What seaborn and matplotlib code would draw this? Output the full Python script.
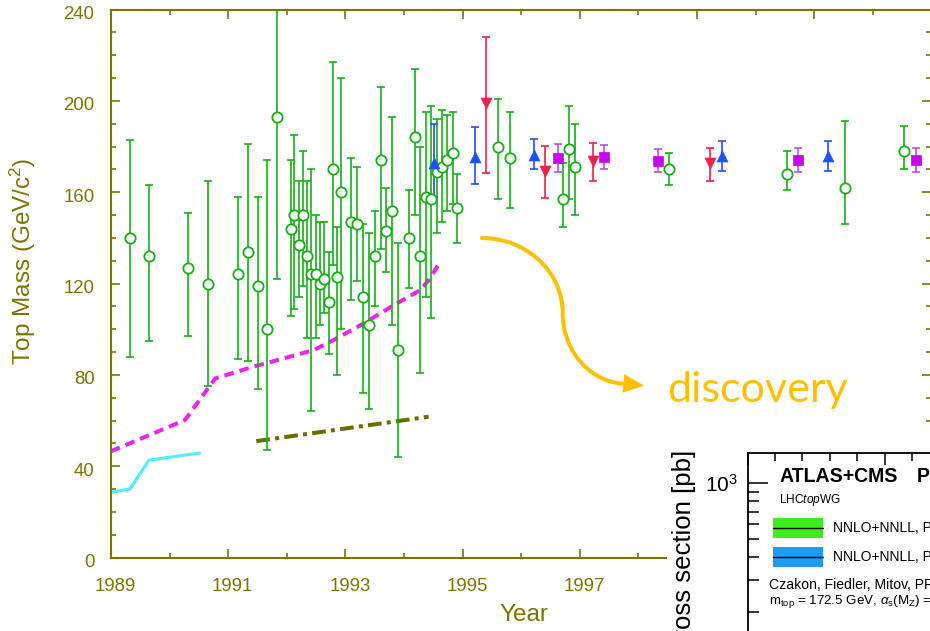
import matplotlib
matplotlib.use("Agg")
import numpy as np
import pandas as pd
import matplotlib.pyplot as plt
import matplotlib.transforms as mtransforms
from matplotlib.path import Path
from matplotlib.patches import FancyArrowPatch, Rectangle, ArrowStyle
from matplotlib.ticker import MultipleLocator, FixedLocator, FixedFormatter, NullFormatter
import seaborn as sns

# ---------------- data ----------------
# green open circles: indirect determinations / predictions
green_year = [1989.32, 1989.65, 1990.32, 1990.66, 1991.17, 1991.33, 1991.50, 1991.66, 1991.83,
              1992.07, 1992.13, 1992.21, 1992.28, 1992.35, 1992.42, 1992.50, 1992.57, 1992.64,
              1992.72, 1992.78, 1992.85, 1992.93, 1993.10, 1993.20, 1993.30, 1993.40, 1993.50,
              1993.61, 1993.70, 1993.80, 1993.90, 1994.09, 1994.18, 1994.27, 1994.37, 1994.46,
              1994.56, 1994.65, 1994.74, 1994.83, 1994.91,
              1995.61, 1995.81, 1996.71, 1996.82, 1996.92, 1998.52, 2000.53, 2001.53, 2002.53]
green_mass = [140, 132, 127, 120, 124, 134, 119, 100, 193,
              144, 150, 137, 150, 132, 124, 124, 120, 122,
              112, 170, 123, 160, 147, 146, 114, 102, 132,
              174, 143, 152, 91, 140, 184, 132, 158, 157,
              169, 171, 174, 177, 153,
              180, 175, 157, 179, 171, 170, 168, 162, 178]
green_lo = [88, 95, 97, 75, 87, 86, 74, 47, 122,
            106, 109, 114, 119, 96, 64, 96, 102, 107,
            89, 128, 80, 100, 113, 121, 72, 65, 110,
            135, 125, 102, 44, 118, 150, 81, 114, 105,
            142, 147, 152, 155, 138,
            157, 153, 145, 157, 150, 163, 161, 146, 170]
green_hi = [183, 163, 151, 165, 158, 181, 158, 174, 250,
            174, 185, 165, 178, 165, 170, 150, 147, 147,
            134, 217, 145, 210, 175, 171, 146, 142, 152,
            206, 162, 193, 138, 161, 214, 180, 195, 198,
            192, 196, 194, 195, 168,
            201, 195, 173, 198, 190, 177, 178, 191, 189]

# blue up-triangles
blue_year = [1994.51, 1995.21, 1996.21, 1999.42, 2001.23]
blue_mass = [173, 175.5, 176.5, 176, 176]
blue_lo = [158, 163.5, 170, 169.4, 169.4]
blue_hi = [190, 188.7, 183.4, 182.5, 182.5]

# red down-triangles
red_year = [1995.40, 1996.41, 1997.22, 1999.22]
red_mass = [199, 169.4, 173.6, 172.6]
red_lo = [168.5, 157.4, 165, 165]
red_hi = [228, 180.3, 181.7, 179.3]

# magenta squares
mag_year = [1996.62, 1997.42, 1998.33, 2000.73, 2002.73]
mag_mass = [175, 175.5, 173.8, 174, 174]
mag_lo = [169, 170.3, 169, 169, 169]
mag_hi = [181, 180.6, 179, 179.5, 179.5]

# lower limits (lines)
cyan_year = [1989.0, 1989.32, 1989.65, 1990.51]
cyan_mass = [28.6, 30.0, 42.7, 45.8]
pink_year = [1989.0, 1990.26, 1990.78, 1991.43, 1992.46, 1992.80, 1993.26, 1993.83, 1994.28, 1994.42, 1994.62]
pink_mass = [46.6, 60.2, 78.5, 83.6, 90.9, 95.3, 101.8, 110.6, 117.2, 121.5, 129.6]
olive_year = [1991.48, 1994.42]
olive_mass = [51.0, 61.7]

x_ticks = [1989, 1991, 1993, 1995, 1997, 1999, 2001, 2003]
y_ticks = [0, 40, 80, 120, 160, 200, 240]

# ---------------- style ----------------
W, H, DPI = 930, 631, 100
OLIVE = "#7b7600"
GREEN = "#16b016"
BLUE = "#1f4fff"
RED = "#f0204a"
PURP = "#c800f0"
PURP_BAR = "#b050ff"
PINK = "#ee22ee"
CYAN = "#55eeff"
DOLIVE = "#6c6a00"
ORANGE = "#ffc000"

sns.set_theme(style="white")
plt.rcParams["font.family"] = ["Liberation Sans", "DejaVu Sans"]
plt.rcParams["mathtext.fontset"] = "custom"
plt.rcParams["mathtext.rm"] = "Liberation Sans"
plt.rcParams["mathtext.it"] = "Liberation Sans:italic"
plt.rcParams["mathtext.bf"] = "Liberation Sans:bold"

fig = plt.figure(figsize=(W / DPI, H / DPI), dpi=DPI)
fig.patch.set_facecolor("white")


def px_rect(l, t, r, b):
    return [l / W, 1 - b / H, (r - l) / W, (b - t) / H]


def fx(x):
    return x / W


def fy(y):
    return 1 - y / H


ax = fig.add_axes(px_rect(111, 9.6, 931.4, 557.6))
ax.set_facecolor("white")
ax.set_xlim(1989, 2003)
ax.set_ylim(0, 240)

# lines
sns.lineplot(x=cyan_year, y=cyan_mass, ax=ax, sort=False, estimator=None,
             color=CYAN, lw=2.3, zorder=1)
sns.lineplot(x=pink_year, y=pink_mass, ax=ax, sort=False, estimator=None,
             color=PINK, lw=2.9, linestyle=(0, (2.4, 1.5)), zorder=1)
sns.lineplot(x=olive_year, y=olive_mass, ax=ax, sort=False, estimator=None,
             color=DOLIVE, lw=2.9, linestyle=(0, (3.4, 1.3, 1.0, 1.3)), zorder=1)


def draw_group(xs, ys, lo, hi, mcol, bcol, marker, size, face, zbar=2, zm=3):
    ys_a = np.array(ys, float)
    err = [ys_a - np.array(lo, float), np.array(hi, float) - ys_a]
    ax.errorbar(xs, ys, yerr=err, fmt="none", ecolor=bcol, elinewidth=1.2,
                capsize=3.0, capthick=1.2, zorder=zbar)
    df = pd.DataFrame({"year": xs, "mass": ys})
    sns.scatterplot(data=df, x="year", y="mass", ax=ax, marker=marker, s=size,
                    facecolor=face, edgecolor=mcol, linewidth=1.3 if face == "white" else 0.5,
                    zorder=zm, legend=False)


draw_group(green_year, green_mass, green_lo, green_hi, GREEN, GREEN, "o", 55, "white")
draw_group(blue_year, blue_mass, blue_lo, blue_hi, BLUE, BLUE, "^", 62, BLUE)
draw_group(red_year, red_mass, red_lo, red_hi, RED, RED, "v", 62, RED)
draw_group(mag_year, mag_mass, mag_lo, mag_hi, PURP, PURP_BAR, "s", 52, PURP)

# axes styling
for sp in ax.spines.values():
    sp.set_color(OLIVE)
    sp.set_linewidth(1.5)
    sp.set_visible(True)
ax.xaxis.set_major_locator(FixedLocator(x_ticks))
ax.xaxis.set_minor_locator(MultipleLocator(1))
ax.yaxis.set_major_locator(FixedLocator(y_ticks))
ax.yaxis.set_minor_locator(MultipleLocator(10))
ax.tick_params(which="both", direction="in", top=True, bottom=True, left=True, right=True,
               color=OLIVE, width=1.2, labelcolor=OLIVE, labelsize=13.4)
ax.tick_params(which="major", length=6.5)
ax.tick_params(which="minor", length=3.5)
ax.tick_params(axis="x", which="major", pad=15)
ax.tick_params(axis="y", which="major", pad=11.8)
ax.grid(False)

offx = mtransforms.ScaledTranslation(4.5 / DPI, 0, fig.dpi_scale_trans)
for lab in ax.get_xticklabels():
    lab.set_transform(lab.get_transform() + offx)
offy = mtransforms.ScaledTranslation(0, -3 / DPI, fig.dpi_scale_trans)
for lab in ax.get_yticklabels():
    lab.set_transform(lab.get_transform() + offy)

ax.set_ylabel("Top Mass (GeV/c$^2$)", color=OLIVE, fontsize=17.5)
ax.yaxis.set_label_coords(fx(23), fy(261), transform=fig.transFigure)
ax.yaxis.label.set_va("center")
ax.set_xlabel("Year", color=OLIVE, fontsize=17.5)
ax.xaxis.set_label_coords(fx(524), fy(604), transform=fig.transFigure)
ax.xaxis.label.set_va("top")

# discovery arrow (S-shaped curve) in data coordinates
verts = [(1995.331, 139.97), (1996.085, 139.97), (1996.708, 125.26), (1996.708, 107.13),
         (1996.708, 89.96), (1997.200, 76.03), (1997.823, 76.03),
         (1998.096, 75.29)]
codes = [Path.MOVETO, Path.CURVE4, Path.CURVE4, Path.CURVE4,
         Path.CURVE4, Path.CURVE4, Path.CURVE4, Path.LINETO]
arrow = FancyArrowPatch(path=Path(verts, codes),
                        arrowstyle=ArrowStyle("-|>", head_length=1.0, head_width=0.45),
                        mutation_scale=10, color=ORANGE, lw=2.9, transform=ax.transData,
                        zorder=4, clip_on=False, joinstyle="miter")
ax.add_patch(arrow)

renderer = fig.canvas.get_renderer()


def fit_width(t, target_px):
    w = t.get_window_extent(renderer).width
    t.set_fontsize(t.get_fontsize() * target_px / w)


t_disc = fig.text(fx(666.7), fy(401.7), "discovery", color=ORANGE, family=["Lato", "DejaVu Sans"],
                  fontsize=28, ha="left", va="baseline", zorder=4)
fit_width(t_disc, 181)

# ---------------- inset (pasted LHC cross-section plot) ----------------
fig.add_artist(Rectangle((fx(667), 0), 1 - fx(667), fy(435), transform=fig.transFigure,
                         facecolor="white", edgecolor="none", zorder=5))

iax = fig.add_axes(px_rect(747.5, 452.7, 1021.5, 700), zorder=6)
iax.set_facecolor("white")
iax.set_yscale("log")
iax.set_xlim(0, 2)
iax.set_ylim(67, 1465)
for side, sp in iax.spines.items():
    sp.set_color("black")
    sp.set_linewidth(1.3)
    sp.set_visible(True)
iax.xaxis.set_major_locator(MultipleLocator(1))
iax.xaxis.set_minor_locator(MultipleLocator(0.2))
iax.xaxis.set_major_formatter(NullFormatter())
iax.yaxis.set_major_locator(FixedLocator([1000]))
iax.yaxis.set_major_formatter(FixedFormatter(["$10^3$"]))
iax.yaxis.set_minor_locator(FixedLocator([100, 200, 300, 400, 500, 600, 700, 800, 900]))
iax.yaxis.set_minor_formatter(NullFormatter())
iax.tick_params(which="both", direction="in", top=True, bottom=False, left=True, right=False,
                labelbottom=False, color="black", width=1.1)
iax.tick_params(axis="x", which="major", length=8.6)
iax.tick_params(axis="x", which="minor", length=5.5)
iax.tick_params(axis="y", which="major", length=14.4, pad=7, labelsize=15, labelcolor="black")
iax.tick_params(axis="y", which="minor", length=8)
iax.grid(False)

fig.text(fx(684), fy(450), "Cross section [pb]", rotation=90, ha="center", va="top",
         fontsize=18.5, color="black", zorder=7)

t_atl = fig.text(fx(779.3), fy(481.7), "ATLAS+CMS", fontweight="bold", fontsize=14,
                 ha="left", va="baseline", color="black", zorder=7)
fit_width(t_atl, 119)
fig.text(fx(917), fy(481.7), "Preliminary", fontweight="bold", fontsize=t_atl.get_fontsize(),
         ha="left", va="baseline", color="black", zorder=7)
fig.text(fx(779.3), fy(503), r"LHC$\mathit{top}$WG", fontsize=8.6, ha="left", va="baseline",
         color="black", zorder=7)

for top, bot, col in [(518.3, 538.3, "#3cee1c"), (546.7, 567.3, "#1a9bf5")]:
    fig.add_artist(Rectangle((fx(773.3), fy(bot)), fx(823.3) - fx(773.3), fy(top) - fy(bot),
                             transform=fig.transFigure, facecolor=col, edgecolor="none", zorder=7))
    mid = (top + bot) / 2
    fig.add_artist(plt.Line2D([fx(773.3), fx(823.3)], [fy(mid), fy(mid)], transform=fig.transFigure,
                              color="black", lw=1.0, zorder=8))
    fig.text(fx(832.7), fy(mid), "NNLO+NNLL, PDF4LHC", fontsize=10.0, ha="left", va="center",
             color="black", zorder=7)

fig.text(fx(769.3), fy(585), "Czakon, Fiedler, Mitov, PRL 110 (2013) 252004", fontsize=10.1,
         ha="left", va="center", color="black", zorder=7)
fig.text(fx(769.3), fy(602), r"m$_{\rm top}$ = 172.5 GeV, $\alpha_{\rm s}$(M$_{\rm Z}$) = 0.118",
         fontsize=9.6, ha="left", va="center", color="black", zorder=7)

fig.savefig("out.png", dpi=DPI, facecolor="white")
